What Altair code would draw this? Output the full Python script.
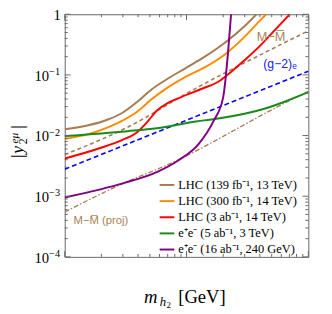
import altair as alt
import pandas as pd

# ---------------- data ----------------
series_names = [
    "LHC (139 fb⁻¹, 13 TeV)",
    "LHC (300 fb⁻¹, 14 TeV)",
    "LHC (3 ab⁻¹, 14 TeV)",
    "e⁺e⁻ (5 ab⁻¹, 3 TeV)",
    "e⁺e⁻ (16 ab⁻¹, 240 GeV)",
]
series_colors = ["#a67c52", "#ff8c00", "#ff0000", "#1a8a1a", "#800080"]

lhc139_m = [10, 15.6, 22.6, 29.8, 39.3, 51.9, 68.4, 99.1, 143.4, 207.6, 300.6, 375]
lhc139_y = [0.0127, 0.01475, 0.0184, 0.0238, 0.0358, 0.0580, 0.0839, 0.1308, 0.2038, 0.342, 0.641, 1.0]

lhc300_m = [10, 15.6, 22.6, 29.8, 39.3, 51.9, 68.4, 99.1, 143.4, 207.6, 300.6, 396.6, 451.5]
lhc300_y = [0.00879, 0.01057, 0.01369, 0.0177, 0.0247, 0.0400, 0.0601, 0.0937, 0.1357, 0.2195, 0.427, 0.772, 1.0]

lhc3ab_m = [10, 18.75, 29.8, 39.3, 47.3, 56.9, 68.4, 90.3, 130.8, 189.3, 227.8, 300.6, 396.6, 523.6, 703.8]
lhc3ab_y = [0.00419, 0.00607, 0.00847, 0.01138, 0.0165, 0.0257, 0.0333, 0.0431, 0.0580, 0.0809, 0.1087, 0.1758, 0.295, 0.533, 1.0]

ee3tev_m = [10, 32.7, 56.9, 119, 182, 435, 630, 1000]
ee3tev_y = [0.00982, 0.0118, 0.0132, 0.0171, 0.0191, 0.0277, 0.0358, 0.0519]

ee240_m = [10, 30.9, 56.9, 85.4, 126, 166, 200, 219.5, 232]
ee240_y = [0.000955, 0.00166, 0.00250, 0.00389, 0.0073, 0.0171, 0.0431, 0.245, 1.0]

g2_m = [10, 100, 1000]
g2_y = [0.00279, 0.0179, 0.115]

mm_m = [10, 32.7, 119, 477, 1000]
mm_y = [0.00486, 0.0137, 0.0601, 0.254, 0.533]

mmproj_m = [10, 30.9, 68.4, 666, 1000]
mmproj_y = [0.000548, 0.00166, 0.00324, 0.0358, 0.0538]

x_labels = [10, 50, 100, 500, 1000]
x_major = [10, 100, 1000]
x_minor = [20, 30, 40, 50, 60, 70, 80, 90, 200, 300, 400, 500, 600, 700, 800, 900]
y_major = [1e-4, 1e-3, 1e-2, 1e-1, 1]
y_minor = [k * d for d in [1e-4, 1e-3, 1e-2, 1e-1] for k in range(2, 10)]
y_label_vals = [1e-4, 1e-3, 1e-2, 1e-1]
y_label_exps = ["−4", "−3", "−2", "−1"]

# ---------------- tables ----------------
rows = []
for name, ms, ys_ in zip(series_names,
                         [lhc139_m, lhc300_m, lhc3ab_m, ee3tev_m, ee240_m],
                         [lhc139_y, lhc300_y, lhc3ab_y, ee3tev_y, ee240_y]):
    for i, (a, b) in enumerate(zip(ms, ys_)):
        rows.append({"m": a, "y": b, "s": name, "o": i})
df_solid = pd.DataFrame(rows)
df_g2 = pd.DataFrame({"m": g2_m, "y": g2_y})
df_mm = pd.DataFrame({"m": mm_m, "y": mm_y})
df_mmp = pd.DataFrame({"m": mmproj_m, "y": mmproj_y})

W, H = 249, 248
SERIF = "Liberation Serif"
SANS = "Liberation Sans"
TICK = "#666666"

xs = alt.Scale(type="log", domain=[10, 1000], nice=False)
ys = alt.Scale(type="log", domain=[1e-4, 1], nice=False)

X = alt.X("m:Q", scale=xs, axis=None)
Y = alt.Y("y:Q", scale=ys, axis=None)

solid = alt.Chart(df_solid).mark_line(strokeWidth=2, clip=True, interpolate="monotone").encode(
    x=alt.X("m:Q", scale=xs, axis=alt.Axis(values=x_labels, format="d", ticks=False, tickSize=0,
                                           domain=False, grid=False, title=None,
                                           labelFont=SERIF, labelFontSize=15, labelPadding=7,
                                           labelColor="black")),
    y=Y,
    color=alt.Color("s:N", scale=alt.Scale(domain=series_names, range=series_colors),
                    legend=alt.Legend(orient="none", legendX=96, legendY=166, title=None,
                                      symbolType="stroke", symbolStrokeWidth=2, symbolSize=225,
                                      labelFont=SERIF, labelFontSize=12.7, labelOffset=3,
                                      rowPadding=0.5, padding=0, labelColor="black")),
    order="o:Q",
)

g2 = alt.Chart(df_g2).mark_line(color="#0000ff", strokeDash=[5, 3], strokeWidth=1.6, clip=True).encode(x=X, y=Y)
mm = alt.Chart(df_mm).mark_line(color="#a67c52", strokeDash=[4, 3], strokeWidth=1.6, clip=True,
                                interpolate="monotone").encode(x=X, y=Y)
mmp = alt.Chart(df_mmp).mark_line(color="#a67c52", strokeDash=[5, 2, 1.5, 2], strokeWidth=1.3, clip=True,
                                  interpolate="monotone").encode(x=X, y=Y)

# ticks (inside, on all four sides)
def xticks(vals, y0, y1):
    return alt.Chart(pd.DataFrame({"m": vals})).mark_rule(color=TICK, strokeWidth=1).encode(
        x=X, y=alt.value(y0), y2=alt.value(y1))

def yticks(vals, x0, x1):
    return alt.Chart(pd.DataFrame({"y": vals})).mark_rule(color=TICK, strokeWidth=1).encode(
        y=Y, x=alt.value(x0), x2=alt.value(x1))

ticks = [
    xticks(x_major, H, H - 6), xticks(x_minor, H, H - 3),
    xticks(x_major, 0, 6), xticks(x_minor, 0, 3),
    yticks(y_major, 0, 6), yticks(y_minor, 0, 3),
    yticks(y_major, W, W - 6), yticks(y_minor, W, W - 3),
]

# y tick labels 10^n
df_ylab = pd.DataFrame({"y": y_label_vals, "e": y_label_exps, "t": ["10"] * len(y_label_vals)})
ylab10 = alt.Chart(df_ylab).mark_text(align="right", baseline="alphabetic", dy=6, font=SERIF,
                                      fontSize=15, color="black").encode(
    y=Y, x=alt.value(-16), text="t:N")
ylabexp = alt.Chart(df_ylab).mark_text(align="left", baseline="alphabetic", dy=0, font=SERIF,
                                       fontSize=10.5, color="black").encode(
    y=Y, x=alt.value(-16), text="e:N")
df_one = pd.DataFrame({"y": [1], "t": ["1"]})
ylab1 = alt.Chart(df_one).mark_text(align="right", baseline="alphabetic", dy=6, font=SERIF,
                                    fontSize=15, color="black").encode(
    y=Y, x=alt.value(-4), text="t:N")


def txt(s, x, y, size, **kw):
    return alt.Chart(alt.Data(values=[{}])).mark_text(text=s, fontSize=size, color="black", **kw).encode(
        x=alt.value(x), y=alt.value(y))

BROWN_TXT = "#a98457"
annots = [
    alt.Chart(alt.Data(values=[{}])).mark_text(text="M−M̅", fontSize=13, font=SANS, color=BROWN_TXT,
                                               align="center", baseline="middle").encode(
        x=alt.value(211), y=alt.value(23)),
    alt.Chart(alt.Data(values=[{}])).mark_text(text="(g−2)ₑ", fontSize=12.5, font=SANS, color="#2020ff",
                                               align="center", baseline="middle").encode(
        x=alt.value(220), y=alt.value(51)),
    alt.Chart(alt.Data(values=[{}])).mark_text(text="M−M̅ (proj)", fontSize=11.5, font=SANS, color=BROWN_TXT,
                                               align="left", baseline="middle").encode(
        x=alt.value(9), y=alt.value(211)),
    # x title  m_{h_2} [GeV]
    txt("m", 81, 295, 19, font=SERIF, fontStyle="italic", align="left", baseline="alphabetic"),
    txt("h", 97, 298, 13, font=SERIF, fontStyle="italic", align="left", baseline="alphabetic"),
    txt("2", 104, 300, 9, font=SERIF, align="left", baseline="alphabetic"),
    txt("[GeV]", 116, 295, 19, font=SERIF, align="left", baseline="alphabetic"),
    # y title |y_2^{eμ}|  (rotated, reading upwards)
    txt("|", -43, 147, 18, font=SERIF, angle=270, align="left", baseline="alphabetic"),
    txt("y", -43, 142.5, 18, font=SERIF, fontStyle="italic", angle=270, align="left", baseline="alphabetic"),
    txt("2", -39, 133, 12, font=SERIF, angle=270, align="left", baseline="alphabetic"),
    txt("eμ", -48, 132, 11.5, font=SERIF, fontStyle="italic", angle=270, align="left", baseline="alphabetic"),
    txt("|", -43, 117, 18, font=SERIF, angle=270, align="left", baseline="alphabetic"),
]

chart = alt.layer(mmp, mm, g2, solid, *ticks, ylab10, ylabexp, ylab1, *annots).properties(
    width=W, height=H,
    autosize=alt.AutoSizeParams(type="none"),
    padding={"left": 58, "top": 3, "right": 16, "bottom": 55},
).configure_view(stroke=TICK, strokeWidth=1)

chart.save("out.html", embed_options={"renderer": "svg", "actions": False})
